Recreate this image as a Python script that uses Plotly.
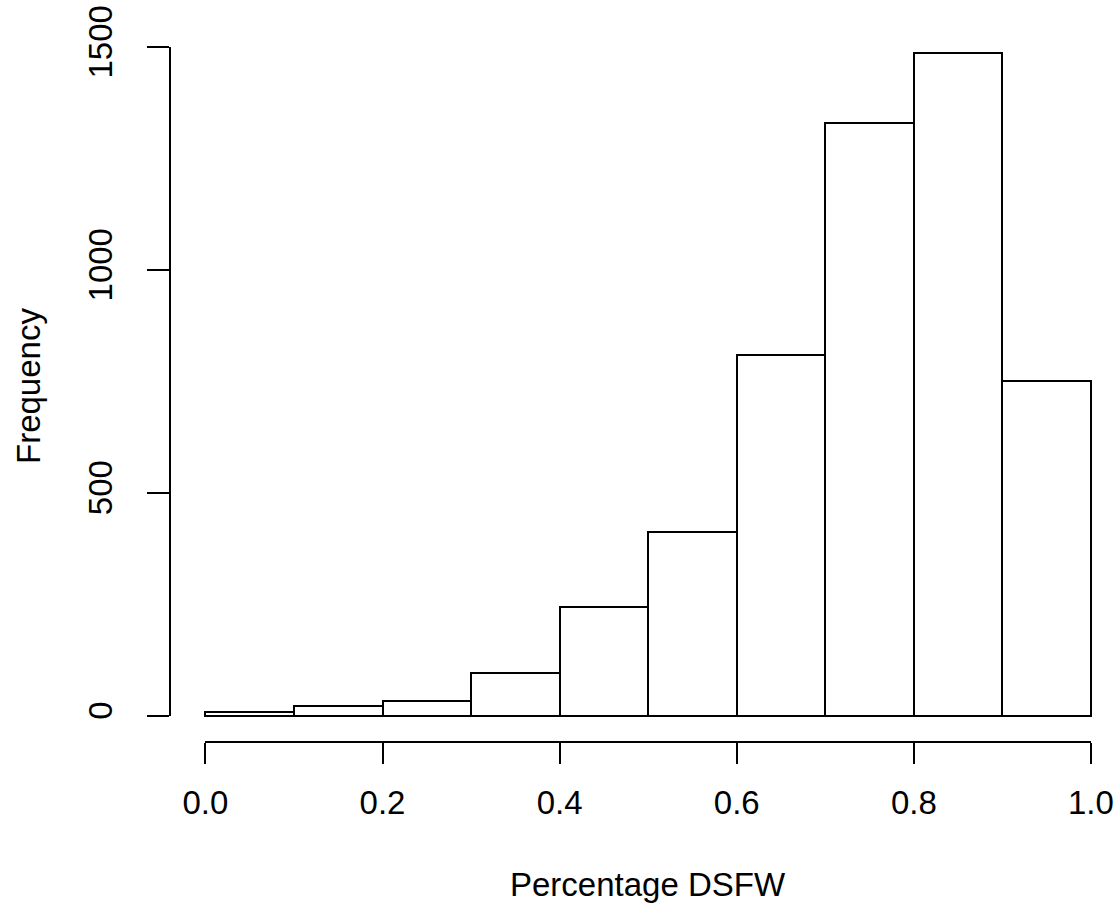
import plotly.graph_objects as go

bin_left = [0.0, 0.1, 0.2, 0.3, 0.4, 0.5, 0.6, 0.7, 0.8, 0.9]
bin_width = 0.1
counts = [8, 21, 32, 95, 243, 411, 808, 1329, 1485, 751]

x_ticks = [0.0, 0.2, 0.4, 0.6, 0.8, 1.0]
x_ticktext = ["0.0", "0.2", "0.4", "0.6", "0.8", "1.0"]
y_ticks = [0, 500, 1000, 1500]
y_ticktext = ["0", "500", "1000", "1500"]

x_label = "Percentage DSFW"
y_label = "Frequency"

W, H = 1120, 907
L, R, T, B = 170, 0, 27, 165
plot_w = W - L - R
plot_h = H - T - B

xr = [-0.04, -0.04 + plot_w / 885.5]
ymax = max(counts)
yr = [-0.04 * ymax, 1.04 * ymax]

def xfrac(v):
    return (v - xr[0]) / (xr[1] - xr[0])

def yfrac(v):
    return (v - yr[0]) / (yr[1] - yr[0])

FONT = "Liberation Sans, Arial, sans-serif"
FS = 33

fig = go.Figure()
fig.add_trace(go.Bar(
    x=[b + bin_width / 2 for b in bin_left],
    y=counts,
    width=bin_width,
    marker=dict(color="white", line=dict(color="black", width=2)),
    hoverinfo="skip",
    showlegend=False,
))
fig.add_trace(go.Scatter(x=[None], y=[None], xaxis="x2", yaxis="y2",
                         mode="markers", showlegend=False, hoverinfo="skip"))

fig.update_layout(
    width=W, height=H,
    autosize=False,
    margin=dict(l=L, r=R, t=T, b=B, pad=0, autoexpand=False),
    paper_bgcolor="white",
    plot_bgcolor="rgba(0,0,0,0)",
    font=dict(family=FONT, size=FS, color="black"),
    bargap=0,
    xaxis=dict(range=xr, visible=False, fixedrange=True, automargin=False),
    yaxis=dict(range=yr, visible=False, fixedrange=True, automargin=False),
    xaxis2=dict(
        domain=[xfrac(0), xfrac(1)], range=[0, 1], anchor="free", position=0,
        tickmode="array", tickvals=x_ticks, ticktext=x_ticktext,
        showline=True, linecolor="black", linewidth=2,
        ticks="outside", ticklen=21, tickwidth=2, tickcolor="black",
        showgrid=False, zeroline=False, ticklabelstandoff=10, automargin=False,
        tickfont=dict(family=FONT, size=FS, color="black"),
    ),
    yaxis2=dict(
        domain=[yfrac(0), yfrac(1500)], range=[0, 1500], anchor="free", position=0,
        tickmode="array", tickvals=y_ticks, ticktext=y_ticktext, tickangle=-90,
        showline=True, linecolor="black", linewidth=2,
        ticks="outside", ticklen=22, tickwidth=2, tickcolor="black",
        showgrid=False, zeroline=False, ticklabelstandoff=22, automargin=False,
        tickfont=dict(family=FONT, size=FS, color="black"),
    ),
    annotations=[
        dict(text=x_label, xref="paper", yref="paper",
             x=xfrac(0.5), y=(742 - 884) / plot_h, xanchor="center", yanchor="middle",
             showarrow=False, font=dict(family=FONT, size=FS, color="black")),
        dict(text=y_label, xref="paper", yref="paper", textangle=-90,
             x=(28 - L) / plot_w, y=(742 - 386) / plot_h, xanchor="center", yanchor="middle",
             showarrow=False, font=dict(family=FONT, size=FS, color="black")),
    ],
)

fig.write_html("out.html", include_plotlyjs=True, config={"responsive": False})
